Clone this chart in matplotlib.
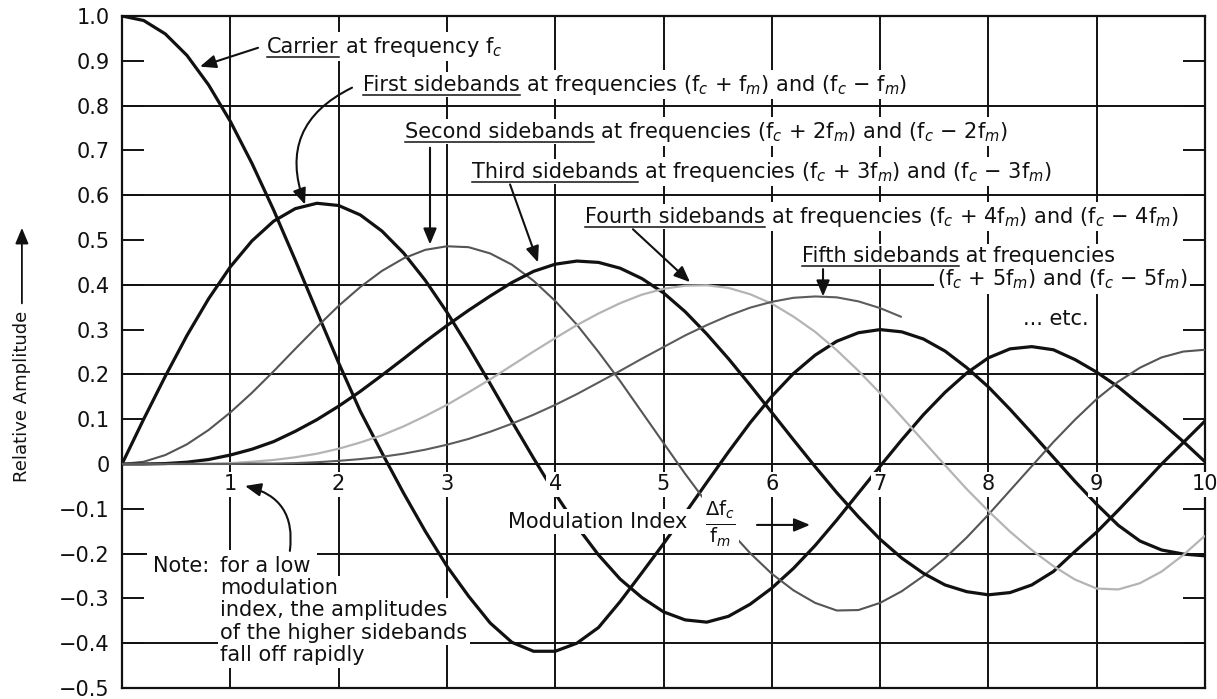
import matplotlib
matplotlib.use("Agg")
import matplotlib.pyplot as plt
import numpy as np

plt.rcParams["font.family"] = ["DejaVu Sans"]
plt.rcParams["mathtext.fontset"] = "dejavusans"

# Relative amplitude of carrier and sidebands versus modulation index,
# sampled every 0.2 from 0 to 10.
MOD_INDEX = np.round(np.arange(51) * 0.2, 1)

CARRIER = [
    1.000, 0.990, 0.960, 0.912, 0.846, 0.765, 0.671, 0.567, 0.455, 0.340,
    0.226, 0.118, 0.025, -0.065, -0.150, -0.228, -0.295, -0.355, -0.398, -0.418,
    -0.418, -0.400, -0.365, -0.307, -0.243, -0.178, -0.110, -0.041, 0.027, 0.092,
    0.151, 0.202, 0.243, 0.274, 0.293, 0.300, 0.295, 0.279, 0.252, 0.215,
    0.172, 0.122, 0.069, 0.015, -0.039, -0.090, -0.137, -0.172, -0.192, -0.201,
    -0.205,
]
FIRST_SB = [
    0.000, 0.100, 0.196, 0.287, 0.369, 0.440, 0.498, 0.542, 0.570, 0.582,
    0.577, 0.556, 0.520, 0.471, 0.410, 0.339, 0.261, 0.179, 0.095, 0.013,
    -0.066, -0.139, -0.203, -0.257, -0.298, -0.330, -0.348, -0.353, -0.340, -0.313,
    -0.277, -0.233, -0.182, -0.125, -0.065, -0.005, 0.054, 0.110, 0.160, 0.203,
    0.237, 0.257, 0.262, 0.255, 0.233, 0.205, 0.172, 0.132, 0.092, 0.050,
    0.005,
]
SECOND_SB = [
    0.000, 0.005, 0.020, 0.044, 0.076, 0.115, 0.159, 0.207, 0.257, 0.306,
    0.353, 0.395, 0.431, 0.459, 0.478, 0.486, 0.484, 0.470, 0.445, 0.409,
    0.364, 0.311, 0.250, 0.185, 0.116, 0.047, -0.022, -0.087, -0.146, -0.199,
    -0.245, -0.282, -0.310, -0.327, -0.326, -0.310, -0.284, -0.250, -0.210, -0.164,
    -0.113, -0.059, -0.005, 0.049, 0.099, 0.145, 0.184, 0.215, 0.238, 0.251,
    0.255,
]
THIRD_SB = [
    0.000, 0.000, 0.001, 0.004, 0.010, 0.020, 0.033, 0.050, 0.073, 0.099,
    0.129, 0.162, 0.198, 0.235, 0.273, 0.309, 0.343, 0.375, 0.405, 0.430,
    0.446, 0.453, 0.450, 0.437, 0.414, 0.382, 0.340, 0.290, 0.235, 0.176,
    0.115, 0.054, -0.006, -0.064, -0.118, -0.168, -0.210, -0.244, -0.270, -0.285,
    -0.292, -0.287, -0.270, -0.240, -0.195, -0.152, -0.103, -0.052, 0.000, 0.048,
    0.096,
]
FOURTH_SB = [
    0.000, 0.000, 0.000, 0.000, 0.001, 0.002, 0.005, 0.009, 0.015, 0.023,
    0.034, 0.048, 0.064, 0.084, 0.107, 0.132, 0.160, 0.189, 0.220, 0.251,
    0.281, 0.310, 0.336, 0.359, 0.378, 0.391, 0.398, 0.399, 0.393, 0.379,
    0.358, 0.329, 0.295, 0.254, 0.208, 0.158, 0.105, 0.051, -0.003, -0.056,
    -0.105, -0.151, -0.192, -0.228, -0.258, -0.278, -0.280, -0.266, -0.240, -0.203,
    -0.160,
]
FIFTH_SB = [
    0.000, 0.000, 0.000, 0.000, 0.000, 0.000, 0.001, 0.001, 0.002, 0.004,
    0.007, 0.011, 0.016, 0.023, 0.032, 0.043, 0.056, 0.072, 0.090, 0.110,
    0.132, 0.156, 0.182, 0.208, 0.235, 0.261, 0.287, 0.310, 0.331, 0.349,
    0.362, 0.371, 0.374, 0.372, 0.363, 0.348, 0.328, np.nan, np.nan, np.nan,
    np.nan, np.nan, np.nan, np.nan, np.nan, np.nan, np.nan, np.nan, np.nan, np.nan,
    np.nan,
]

Y_TICKS = [1.0, 0.9, 0.8, 0.7, 0.6, 0.5, 0.4, 0.3, 0.2, 0.1, 0.0,
           -0.1, -0.2, -0.3, -0.4, -0.5]
Y_TICK_LABELS = ["1.0", "0.9", "0.8", "0.7", "0.6", "0.5", "0.4", "0.3", "0.2",
                 "0.1", "0", "\u22120.1", "\u22120.2", "\u22120.3", "\u22120.4",
                 "\u22120.5"]
X_TICKS = [1, 2, 3, 4, 5, 6, 7, 8, 9, 10]
H_GRID = [0.8, 0.6, 0.4, 0.2, 0.0, -0.2, -0.4]
V_GRID = [1, 2, 3, 4, 5, 6, 7, 8, 9]

NOTE_LINES = ["for a low", "modulation", "index, the amplitudes",
              "of the higher sidebands", "fall off rapidly"]

# (series, colour, width)
CURVES = [
    (CARRIER, "#111111", 2.3),
    (FIRST_SB, "#111111", 2.3),
    (SECOND_SB, "#555555", 1.5),
    (THIRD_SB, "#111111", 2.3),
    (FOURTH_SB, "#b4b4b4", 1.6),
    (FIFTH_SB, "#5c5c5c", 1.5),
]

FS = 15
INK = "#111111"
BOX = dict(boxstyle="square,pad=0.12", fc="white", ec="none")
WIDE_BOX = dict(boxstyle="square,pad=0.3", fc="white", ec="none")
ARROW = dict(arrowstyle="-|>,head_length=0.6,head_width=0.25", color=INK,
             lw=1.5, mutation_scale=16, shrinkA=0, shrinkB=0)

fig = plt.figure(figsize=(12.17, 6.99), dpi=100)
ax = fig.add_axes([122 / 1217, 11 / 699, 1083 / 1217, 672 / 699])
ax.set_xlim(0, 10)
ax.set_ylim(-0.5, 1.0)

for y in H_GRID:
    ax.axhline(y, color=INK, lw=1.4, zorder=1)
for x in V_GRID:
    ax.axvline(x, color=INK, lw=1.4, zorder=1)
for side in ax.spines.values():
    side.set_linewidth(1.6)
    side.set_color(INK)

for series, color, lw in CURVES:
    ax.plot(MOD_INDEX, series, color=color, lw=lw, zorder=3,
            solid_joinstyle="round", solid_capstyle="butt")

ax.set_yticks(Y_TICKS, Y_TICK_LABELS)
ax.tick_params(axis="y", direction="in", length=16, width=1.4, color=INK,
               right=True, labelsize=FS, pad=9, labelcolor=INK)
ax.set_xticks([])

for x in X_TICKS:
    ax.text(x, -0.045, str(x), ha="center", va="center", fontsize=FS,
            color=INK, bbox=BOX, zorder=6)

renderer = fig.canvas.get_renderer()


def underlined_label(x, y, head, tail):
    """Text with its leading words underlined, on a white patch."""
    t1 = ax.text(x, y, head, fontsize=FS, color=INK, va="baseline",
                 bbox=BOX, zorder=6.5)
    bb = t1.get_window_extent(renderer)
    inv = ax.transData.inverted()
    x1 = inv.transform((bb.x1, 0))[0]
    base_px = ax.transData.transform((x, y))[1]
    yu = inv.transform((0, base_px - 4))[1]
    ax.plot([x, x1], [yu, yu], color=INK, lw=1.1, zorder=7)
    if tail:
        ax.text(x1, y, tail, fontsize=FS, color=INK, va="baseline",
                bbox=BOX, zorder=6)


underlined_label(1.339, 0.918, "Carrier", " at frequency f$_c$")
underlined_label(2.225, 0.833, "First sidebands",
                 " at frequencies (f$_c$ + f$_m$) and (f$_c$ \u2212 f$_m$)")
underlined_label(2.613, 0.728, "Second sidebands",
                 " at frequencies (f$_c$ + 2f$_m$) and (f$_c$ \u2212 2f$_m$)")
underlined_label(3.232, 0.639, "Third sidebands",
                 " at frequencies (f$_c$ + 3f$_m$) and (f$_c$ \u2212 3f$_m$)")
underlined_label(4.275, 0.539, "Fourth sidebands",
                 " at frequencies (f$_c$ + 4f$_m$) and (f$_c$ \u2212 4f$_m$)")
underlined_label(6.279, 0.450, "Fifth sidebands", " at frequencies")
ax.text(7.525, 0.398, "(f$_c$ + 5f$_m$) and (f$_c$ \u2212 5f$_m$)",
        fontsize=FS, color=INK, va="baseline", bbox=BOX, zorder=6)
ax.text(8.32, 0.310, "... etc.", fontsize=FS, color=INK, va="baseline",
        bbox=BOX, zorder=6)

# pointers from each label to its curve
ax.annotate("", xy=(0.72, 0.887), xytext=(1.256, 0.929), arrowprops=ARROW,
            zorder=7)
ax.annotate("", xy=(1.69, 0.579), xytext=(2.124, 0.840),
            arrowprops=dict(ARROW, connectionstyle="arc3,rad=0.45"), zorder=7)
ax.annotate("", xy=(2.844, 0.490), xytext=(2.844, 0.706), arrowprops=ARROW,
            zorder=7)
ax.annotate("", xy=(3.841, 0.450), xytext=(3.583, 0.624), arrowprops=ARROW,
            zorder=7)
ax.annotate("", xy=(5.245, 0.406), xytext=(4.718, 0.524), arrowprops=ARROW,
            zorder=7)
ax.annotate("", xy=(6.473, 0.374), xytext=(6.473, 0.435), arrowprops=ARROW,
            zorder=7)

# x-axis caption
ax.text(3.564, -0.129, "Modulation Index", fontsize=FS, color=INK,
        va="center", bbox=BOX, zorder=6)
ax.text(5.384, -0.133, r"$\frac{\Delta\mathrm{f}_c}{\mathrm{f}_m}$",
        fontsize=FS + 5, color=INK, va="center", bbox=BOX, zorder=6)
ax.annotate("", xy=(6.353, -0.136), xytext=(5.863, -0.136), arrowprops=ARROW,
            zorder=7)

# low-index note, one white patch per line
ax.text(0.286, -0.241, "Note:", fontsize=FS, color=INK, va="baseline",
        bbox=WIDE_BOX, zorder=6)
for i, line in enumerate(NOTE_LINES):
    ax.text(0.905, -0.241 - 0.0497 * i, line, fontsize=FS, color=INK,
            va="baseline", bbox=WIDE_BOX if i == 0 else BOX, zorder=6)
ax.annotate("", xy=(1.136, -0.049), xytext=(1.55, -0.194),
            arrowprops=dict(ARROW, connectionstyle="arc3,rad=0.45"), zorder=7)

# vertical axis caption with its arrow
fig.text(0.018, 0.433, "Relative Amplitude", rotation=90, fontsize=13,
         color=INK, ha="center", va="center")
ax.annotate("", xy=(0.018, 0.674), xytext=(0.018, 0.566),
            xycoords="figure fraction", textcoords="figure fraction",
            arrowprops=dict(ARROW, lw=1.3))

fig.savefig("out.png", dpi=100)
